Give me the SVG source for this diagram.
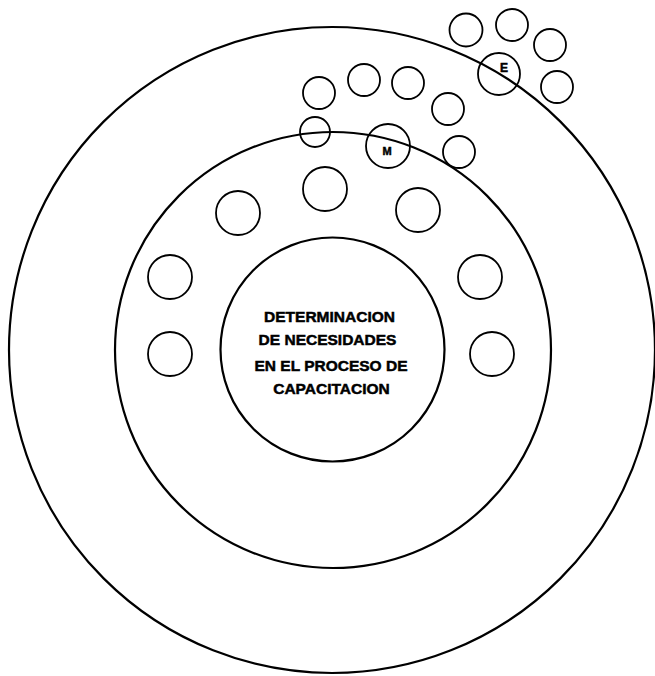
<svg xmlns="http://www.w3.org/2000/svg" width="655" height="676" viewBox="0 0 655 676">
<style>
.big{fill:none;stroke:#000;stroke-width:2.2}
.sm{fill:none;stroke:#000;stroke-width:1.8}
.t{font-family:"Liberation Sans",Arial,sans-serif;font-weight:bold;fill:#000;stroke:#000;stroke-width:0.5;text-anchor:middle}
</style>
<rect width="655" height="676" fill="#fff"/>
<g id="outer"><circle class="big" cx="332" cy="350" r="323"/></g>
<g id="middle"><circle class="big" cx="333" cy="350" r="218"/></g>
<g id="center">
<circle class="big" cx="332.5" cy="349.5" r="112"/>
<text class="t" font-size="15.5" x="329.5" y="322">DETERMINACION</text>
<text class="t" font-size="15.5" x="327.5" y="345">DE NECESIDADES</text>
<text class="t" font-size="15.5" x="331" y="371">EN EL PROCESO DE</text>
<text class="t" font-size="15.5" x="331.5" y="394">CAPACITACION</text>
</g>
<g id="ring-circles">
<circle class="sm" cx="238" cy="213" r="22"/>
<circle class="sm" cx="325" cy="189" r="22"/>
<circle class="sm" cx="418" cy="210" r="22"/>
<circle class="sm" cx="170" cy="277" r="22"/>
<circle class="sm" cx="480" cy="277" r="22"/>
<circle class="sm" cx="170" cy="354" r="22"/>
<circle class="sm" cx="492" cy="354" r="22"/>
</g>
<g id="upper-circles">
<circle class="sm" cx="466" cy="30" r="16.5"/>
<circle class="sm" cx="512" cy="25" r="16"/>
<circle class="sm" cx="550" cy="45" r="16"/>
<circle class="sm" cx="557" cy="87" r="16"/>
<circle class="sm" cx="364" cy="80" r="16"/>
<circle class="sm" cx="408" cy="83" r="16"/>
<circle class="sm" cx="319" cy="93" r="16"/>
<circle class="sm" cx="448" cy="109" r="16"/>
<circle class="sm" cx="315" cy="132" r="15"/>
<circle class="sm" cx="459" cy="152" r="16"/>
</g>
<g id="E">
<circle class="sm" cx="499" cy="74" r="21"/>
<text class="t" font-size="12" x="504" y="72">E</text>
</g>
<g id="M">
<circle class="sm" cx="388" cy="146" r="22"/>
<text class="t" font-size="11" x="387" y="155">M</text>
</g>
</svg>
